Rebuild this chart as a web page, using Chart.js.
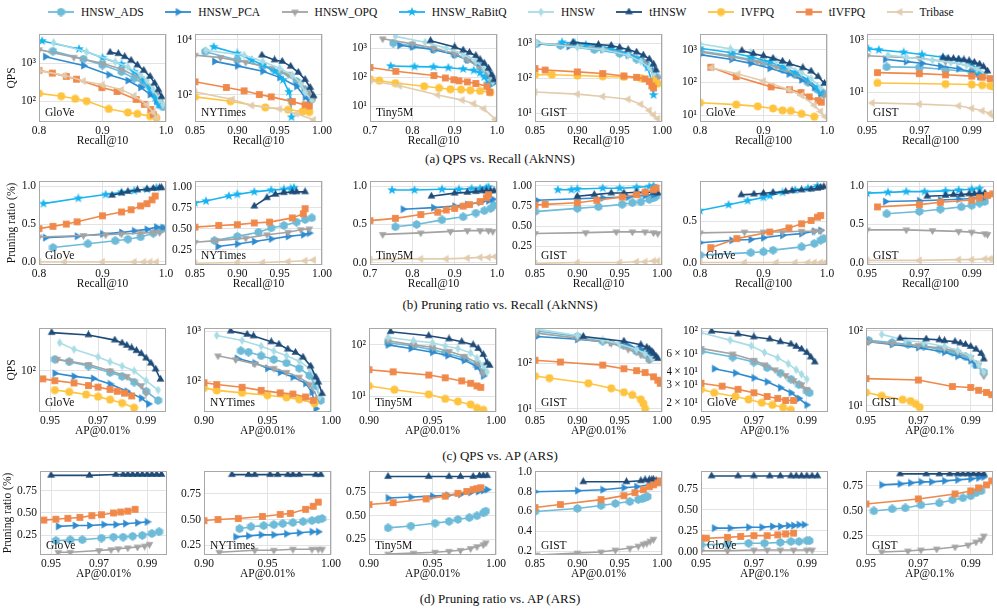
<!DOCTYPE html>
<html>
<head>
<meta charset="utf-8">
<script src="https://cdn.jsdelivr.net/npm/chart.js@4.4.1/dist/chart.umd.min.js"></script>
<style>
  body { margin: 0; width: 997px; height: 609px; background: #fff; position: relative; overflow: hidden;
         font-family: "Liberation Serif", "Times New Roman", serif; color: #111; }
  canvas.panel { position: absolute; }
  .cap { position: absolute; left: 0; width: 1000px; text-align: center; font-size: 13px; line-height: 15px; }
  #legend { position: absolute; top: 4px; left: 48px; display: flex; gap: 21.5px; font-size: 11.5px; line-height: 16px; white-space: nowrap; }
  .item { display: flex; align-items: center; gap: 7px; }
</style>
</head>
<body>
<div id="legend"></div>
<div class="cap" style="top:151px">(a) QPS vs. Recall (AkNNS)</div>
<div class="cap" style="top:297px">(b) Pruning ratio vs. Recall (AkNNS)</div>
<div class="cap" style="top:448px">(c) QPS vs. AP (ARS)</div>
<div class="cap" style="top:591px">(d) Pruning ratio vs. AP (ARS)</div>
<script>
// Methods, in legend order. Every panel array below lists one series per method
// in this same order, each series as [x, y] points; null = method not shown there.
const methods = ['HNSW_ADS', 'HNSW_PCA', 'HNSW_OPQ', 'HNSW_RaBitQ', 'HNSW', 'tHNSW', 'IVFPQ', 'tIVFPQ', 'Tribase'];

// (a) QPS vs. Recall (AkNNS)
const aGlove10 = [
  [[0.822,2100],[0.87,1300],[0.9,900],[0.93,600],[0.95,400],[0.965,280],[0.98,160],[0.99,100],[0.995,70]],
  [[0.81,1500],[0.87,870],[0.91,500],[0.94,350],[0.96,230],[0.975,150],[0.985,100],[0.99,80]],
  [[0.8,2300],[0.855,1450],[0.9,1000],[0.93,700],[0.96,400],[0.975,250],[0.985,150],[0.99,90]],
  [[0.805,3900],[0.863,2400],[0.9,1400],[0.93,950],[0.95,600],[0.965,350],[0.975,200],[0.983,120],[0.988,80]],
  [[0.823,3500],[0.875,2000],[0.92,1100],[0.94,800],[0.96,500],[0.97,350],[0.98,200],[0.99,110],[0.995,80]],
  [[0.912,1950],[0.925,1800],[0.935,1500],[0.945,1200],[0.955,900],[0.965,650],[0.975,450],[0.982,300],[0.988,200],[0.993,130]],
  [[0.8,160],[0.835,135],[0.857,115],[0.875,100],[0.91,62],[0.94,50],[0.955,46],[0.975,40],[0.985,36]],
  [[0.8,650],[0.821,550],[0.843,450],[0.859,380],[0.899,228],[0.923,180],[0.953,111],[0.966,82],[0.976,60],[0.98,44]],
  [[0.8,640],[0.84,480],[0.87,340],[0.9,270],[0.93,200],[0.95,140],[0.97,80],[0.98,50],[0.985,36]]
];
const aNytimes10 = [
  [[0.862,3600],[0.9,1800],[0.93,1100],[0.95,700],[0.97,300],[0.98,150],[0.988,70]],
  [[0.873,1600],[0.9,1100],[0.93,700],[0.95,420],[0.97,200],[0.98,80],[0.985,55]],
  [[0.85,2700],[0.88,2200],[0.91,1500],[0.94,900],[0.96,550],[0.975,250],[0.985,120],[0.99,70]],
  [[0.872,5400],[0.9,3100],[0.917,1800],[0.93,1200],[0.944,690],[0.954,340],[0.961,125],[0.963,62],[0.964,15]],
  [[0.863,4000],[0.908,2700],[0.93,1600],[0.95,900],[0.965,500],[0.975,250],[0.98,120],[0.988,60]],
  [[0.929,2700],[0.944,1800],[0.953,1600],[0.963,1060],[0.972,640],[0.98,350],[0.986,180],[0.99,90]],
  [[0.85,82],[0.892,57],[0.933,34],[0.96,28],[0.977,24],[0.985,23]],
  [[0.85,290],[0.887,180],[0.908,136],[0.926,100],[0.94,82],[0.965,55],[0.98,42],[0.985,38]],
  [[0.85,125],[0.894,66],[0.917,40],[0.95,30],[0.97,20],[0.99,12]]
];
const aTiny10 = [
  [[0.755,1500],[0.8,1200],[0.85,900],[0.9,600],[0.93,400],[0.96,250],[0.98,120],[0.99,70]],
  [[0.77,1250],[0.8,1100],[0.85,900],[0.9,600],[0.93,400],[0.96,220],[0.98,110],[0.99,60]],
  [[0.73,2100],[0.8,1400],[0.85,1000],[0.9,650],[0.93,400],[0.96,200],[0.98,120],[0.99,70]],
  [[0.749,240],[0.805,230],[0.85,225],[0.885,210],[0.92,190],[0.945,170],[0.96,140],[0.97,100],[0.978,60],[0.98,45]],
  [[0.76,2550],[0.83,1600],[0.88,1000],[0.92,600],[0.95,350],[0.97,200],[0.985,110],[0.99,70]],
  [[0.843,1800],[0.9,1100],[0.92,850],[0.935,700],[0.95,550],[0.96,400],[0.97,300],[0.98,200],[0.988,120],[0.993,80]],
  [[0.7,85],[0.722,75],[0.76,62],[0.828,48],[0.863,42],[0.89,38],[0.915,37],[0.937,35],[0.96,33],[0.984,30]],
  [[0.7,215],[0.761,158],[0.851,113],[0.878,93],[0.898,81],[0.91,74],[0.93,68],[0.95,60],[0.976,48],[0.983,30]],
  [[0.7,75],[0.77,50],[0.86,24],[0.918,16],[0.945,12],[0.969,8],[0.996,3.5]]
];
const aGist10 = [
  [[0.852,950],[0.88,850],[0.92,650],[0.95,500],[0.97,350],[0.985,200],[0.993,110]],
  [[0.852,950],[0.89,800],[0.93,650],[0.96,450],[0.98,280],[0.99,160],[0.993,100]],
  [[0.85,1000],[0.9,850],[0.93,700],[0.96,500],[0.98,300],[0.99,150],[0.995,100]],
  [[0.882,1050],[0.897,1000],[0.91,900],[0.94,700],[0.96,500],[0.975,350],[0.983,200],[0.988,80],[0.99,33]],
  [[0.852,1000],[0.9,750],[0.93,650],[0.96,450],[0.975,300],[0.985,200],[0.99,130]],
  [[0.895,1050],[0.925,900],[0.94,850],[0.95,750],[0.96,650],[0.97,550],[0.978,450],[0.985,350],[0.99,250],[0.993,170]],
  [[0.85,125],[0.87,125],[0.9,118],[0.93,112],[0.955,108],[0.975,100],[0.99,85],[0.995,70]],
  [[0.85,187],[0.862,170],[0.9,150],[0.93,135],[0.955,115],[0.97,105],[0.98,95],[0.985,80],[0.988,60],[0.99,52]],
  [[0.85,40],[0.9,35],[0.93,30],[0.96,25],[0.975,18],[0.985,12],[0.99,9],[0.995,7]]
];
const aGlove100 = [
  [[0.8,900],[0.85,650],[0.88,500],[0.9,400],[0.93,250],[0.95,170],[0.97,100],[0.985,60],[0.995,45]],
  [[0.8,700],[0.85,500],[0.88,380],[0.91,270],[0.94,180],[0.96,120],[0.98,70],[0.99,45]],
  [[0.8,850],[0.85,600],[0.89,420],[0.92,300],[0.95,180],[0.97,110],[0.99,55],[0.995,40]],
  [[0.8,1100],[0.85,800],[0.88,600],[0.91,420],[0.93,300],[0.95,200],[0.97,120],[0.985,70],[0.99,50]],
  [[0.8,1500],[0.848,1050],[0.88,800],[0.9,650],[0.92,450],[0.94,300],[0.96,200],[0.975,130],[0.99,70]],
  [[0.866,930],[0.884,750],[0.9,640],[0.915,540],[0.93,440],[0.941,370],[0.962,280],[0.975,220],[0.986,150],[0.996,93]],
  [[0.8,24],[0.857,21],[0.891,18.6],[0.915,16],[0.93,14],[0.943,13.5],[0.96,11],[0.98,9]],
  [[0.817,290],[0.857,150],[0.912,73],[0.941,60],[0.959,49],[0.972,36],[0.986,28],[0.991,25]],
  [[0.818,280],[0.86,180],[0.9,110],[0.94,60],[0.96,40],[0.98,20],[0.99,13],[0.997,9]]
];
const aGist100 = [
  [[0.9575,94],[0.97,90],[0.98,75],[0.99,60],[0.993,50]],
  [[0.957,185],[0.965,150],[0.971,130],[0.978,100],[0.985,80],[0.99,60],[0.993,40]],
  [[0.95,250],[0.97,200],[0.98,150],[0.99,100],[0.995,50]],
  [[0.9505,460],[0.9545,420],[0.964,340],[0.971,280],[0.979,220],[0.985,180],[0.989,140],[0.992,80],[0.993,50]],
  [[0.958,265],[0.965,220],[0.975,170],[0.982,140],[0.988,110],[0.992,80],[0.995,50]],
  [[0.979,215],[0.981,200],[0.983,195],[0.985,185],[0.987,175],[0.989,160],[0.991,140],[0.993,120],[0.9945,95],[0.996,65]],
  [[0.954,23],[0.98,21],[0.99,20],[0.994,19],[0.997,18],[0.998,17]],
  [[0.954,57],[0.97,52],[0.98,47],[0.99,42],[0.994,38],[0.997,34]],
  [[0.952,4],[0.97,3.6],[0.985,3.1],[0.99,2.5],[0.994,2],[0.997,1.6],[0.998,1.3]]
];

// (b) Pruning ratio vs. Recall (AkNNS)
const bGlove10 = [
  [[0.822,0.19],[0.877,0.24],[0.92,0.28],[0.94,0.3],[0.96,0.33],[0.98,0.38],[0.99,0.42],[0.995,0.44]],
  [[0.81,0.32],[0.86,0.34],[0.9,0.37],[0.93,0.39],[0.95,0.41],[0.97,0.43],[0.985,0.46],[0.995,0.45]],
  [[0.8,0.33],[0.87,0.35],[0.905,0.36],[0.93,0.37],[0.96,0.38],[0.98,0.39],[0.99,0.39]],
  [[0.807,0.77],[0.862,0.84],[0.905,0.89],[0.93,0.92],[0.95,0.94],[0.97,0.96],[0.985,0.98]],
  null,
  [[0.915,0.88],[0.93,0.91],[0.94,0.93],[0.955,0.95],[0.97,0.96],[0.98,0.97],[0.99,0.98],[0.993,0.98]],
  null,
  [[0.8,0.44],[0.822,0.47],[0.843,0.5],[0.86,0.53],[0.9,0.61],[0.93,0.66],[0.945,0.69],[0.96,0.74],[0.97,0.77],[0.978,0.82],[0.983,0.87]],
  [[0.8,0.0],[0.84,0.0],[0.9,0.0],[0.95,0.0],[0.965,0.0],[0.975,0.0],[0.985,0.0]]
];
const bNytimes10 = [
  [[0.873,0.36],[0.9,0.41],[0.925,0.46],[0.94,0.51],[0.955,0.54],[0.97,0.58],[0.98,0.61],[0.988,0.63]],
  [[0.877,0.29],[0.9,0.32],[0.92,0.35],[0.94,0.38],[0.96,0.41],[0.978,0.43],[0.985,0.45]],
  [[0.85,0.34],[0.875,0.36],[0.91,0.39],[0.935,0.43],[0.96,0.46],[0.975,0.49],[0.985,0.5]],
  [[0.85,0.81],[0.863,0.83],[0.89,0.89],[0.9,0.91],[0.92,0.94],[0.94,0.96],[0.955,0.97],[0.963,0.98],[0.967,0.99]],
  null,
  [[0.92,0.77],[0.935,0.87],[0.945,0.91],[0.955,0.93],[0.965,0.94],[0.97,0.94],[0.98,0.94]],
  null,
  [[0.85,0.52],[0.878,0.54],[0.9,0.55],[0.92,0.57],[0.938,0.58],[0.965,0.63],[0.978,0.68],[0.98,0.74]],
  [[0.85,0.09],[0.9,0.1],[0.93,0.1],[0.96,0.11],[0.98,0.12],[0.99,0.13]]
];
const bTiny10 = [
  [[0.76,0.47],[0.81,0.5],[0.87,0.56],[0.92,0.6],[0.95,0.65],[0.97,0.68],[0.985,0.71],[0.993,0.75]],
  [[0.778,0.7],[0.85,0.72],[0.9,0.74],[0.93,0.76],[0.96,0.79],[0.98,0.81],[0.99,0.83]],
  [[0.73,0.37],[0.82,0.39],[0.89,0.41],[0.93,0.42],[0.96,0.42],[0.98,0.42],[0.99,0.41]],
  [[0.752,0.95],[0.805,0.95],[0.87,0.96],[0.91,0.96],[0.94,0.97],[0.96,0.97],[0.975,0.98],[0.98,0.99]],
  null,
  [[0.845,0.87],[0.9,0.91],[0.93,0.92],[0.95,0.93],[0.965,0.94],[0.975,0.94],[0.985,0.94],[0.993,0.94]],
  null,
  [[0.7,0.55],[0.76,0.58],[0.82,0.63],[0.86,0.66],[0.88,0.69],[0.9,0.71],[0.92,0.74],[0.935,0.76],[0.96,0.8],[0.975,0.85],[0.98,0.89]],
  [[0.7,0.04],[0.82,0.05],[0.88,0.05],[0.93,0.06],[0.96,0.07],[0.98,0.07],[0.995,0.08]]
];
const bGist10 = [
  [[0.85,0.68],[0.9,0.72],[0.925,0.74],[0.953,0.77],[0.965,0.79],[0.975,0.8],[0.985,0.83],[0.99,0.85],[0.993,0.87]],
  [[0.852,0.82],[0.9,0.84],[0.93,0.85],[0.96,0.86],[0.98,0.88],[0.99,0.89],[0.993,0.9]],
  [[0.85,0.41],[0.91,0.42],[0.946,0.43],[0.965,0.43],[0.98,0.43],[0.99,0.42],[0.995,0.41]],
  [[0.877,0.95],[0.893,0.95],[0.9,0.96],[0.93,0.97],[0.95,0.97],[0.97,0.98],[0.985,0.99],[0.99,1.0]],
  null,
  [[0.9,0.87],[0.92,0.89],[0.94,0.91],[0.955,0.91],[0.97,0.92],[0.98,0.92],[0.99,0.92],[0.995,0.91]],
  null,
  [[0.85,0.76],[0.862,0.77],[0.9,0.79],[0.923,0.82],[0.953,0.86],[0.97,0.89],[0.98,0.92],[0.99,0.95],[0.993,0.97]],
  [[0.85,0.04],[0.9,0.05],[0.95,0.05],[0.97,0.06],[0.98,0.06],[0.99,0.07],[0.995,0.07]]
];
const bGlove100 = [
  [[0.8,0.09],[0.88,0.12],[0.9,0.13],[0.915,0.15],[0.96,0.19],[0.98,0.23],[0.99,0.27],[0.995,0.29]],
  [[0.8,0.24],[0.85,0.27],[0.88,0.28],[0.9,0.3],[0.93,0.33],[0.96,0.35],[0.98,0.38],[0.99,0.39]],
  [[0.8,0.36],[0.87,0.37],[0.9,0.37],[0.93,0.37],[0.96,0.38],[0.98,0.38],[0.99,0.38]],
  [[0.8,0.63],[0.845,0.7],[0.875,0.75],[0.9,0.79],[0.91,0.81],[0.93,0.85],[0.95,0.88],[0.97,0.9],[0.985,0.93]],
  null,
  [[0.865,0.82],[0.885,0.83],[0.9,0.84],[0.915,0.85],[0.935,0.86],[0.945,0.87],[0.96,0.88],[0.975,0.89],[0.985,0.9],[0.99,0.91],[0.995,0.92]],
  null,
  [[0.817,0.18],[0.858,0.29],[0.91,0.37],[0.94,0.42],[0.96,0.47],[0.975,0.51],[0.985,0.55],[0.99,0.57]],
  [[0.8,0.0],[0.87,0.0],[0.92,0.0],[0.95,0.0],[0.97,0.0],[0.98,0.0],[0.99,0.0],[0.997,0.0]]
];
const bGist100 = [
  [[0.9575,0.64],[0.97,0.67],[0.978,0.7],[0.986,0.73],[0.99,0.75],[0.993,0.78],[0.995,0.8]],
  [[0.957,0.8],[0.97,0.81],[0.978,0.82],[0.985,0.83],[0.99,0.84],[0.995,0.86]],
  [[0.95,0.43],[0.965,0.43],[0.975,0.42],[0.985,0.41],[0.99,0.4],[0.995,0.38],[0.996,0.37]],
  [[0.95,0.91],[0.958,0.92],[0.965,0.93],[0.972,0.93],[0.98,0.94],[0.985,0.95],[0.99,0.96],[0.993,0.97]],
  null,
  [[0.973,0.87],[0.98,0.88],[0.983,0.89],[0.986,0.89],[0.989,0.9],[0.991,0.9],[0.993,0.91],[0.995,0.91]],
  null,
  [[0.954,0.73],[0.97,0.76],[0.978,0.79],[0.99,0.82],[0.993,0.85],[0.996,0.88],[0.998,0.9]],
  [[0.95,0.03],[0.97,0.03],[0.985,0.04],[0.99,0.04],[0.995,0.05],[0.997,0.05],[0.998,0.05]]
];

// (c) QPS vs. AP (ARS)
const cGlove001 = [
  [[0.952,140],[0.958,130],[0.966,115],[0.975,95],[0.98,85],[0.985,72],[0.99,55],[0.995,42]],
  [[0.952,93],[0.96,85],[0.968,80],[0.975,68],[0.982,55],[0.988,45],[0.991,38]],
  [[0.953,140],[0.958,132],[0.966,120],[0.975,100],[0.982,85],[0.988,65],[0.99,52]],
  null,
  [[0.954,227],[0.96,187],[0.97,150],[0.975,130],[0.98,115],[0.985,100],[0.99,75],[0.995,57]],
  [[0.9507,305],[0.966,285],[0.977,245],[0.98,225],[0.982,210],[0.984,195],[0.986,180],[0.988,165],[0.99,145],[0.992,125],[0.994,105],[0.996,78]],
  [[0.952,57],[0.958,54],[0.965,50],[0.97,47],[0.975,43],[0.98,39],[0.985,34]],
  [[0.947,79],[0.952,75],[0.96,70],[0.966,65],[0.97,62],[0.975,58],[0.978,55],[0.981,52],[0.984,48]],
  null
];
const cNytimes001 = [
  [[0.929,403],[0.935,380],[0.945,320],[0.955,270],[0.965,230],[0.975,180],[0.983,130],[0.988,80],[0.992,41]],
  [[0.926,285],[0.94,230],[0.95,180],[0.96,150],[0.97,120],[0.98,90],[0.985,60],[0.988,28]],
  [[0.911,320],[0.925,270],[0.94,220],[0.955,180],[0.965,150],[0.975,120],[0.983,85],[0.99,45]],
  null,
  [[0.91,820],[0.93,650],[0.945,500],[0.955,400],[0.965,320],[0.975,250],[0.983,180],[0.988,110],[0.991,48]],
  [[0.921,1000],[0.934,860],[0.939,800],[0.953,610],[0.959,545],[0.966,435],[0.972,375],[0.978,300],[0.984,200],[0.988,120],[0.99,95],[0.993,56]],
  [[0.9,73],[0.91,65],[0.93,58],[0.95,52],[0.965,47],[0.975,43],[0.987,36]],
  [[0.9,93],[0.91,85],[0.93,75],[0.945,65],[0.96,58],[0.97,55],[0.98,48],[0.986,41]],
  null
];
const cTiny001 = [
  [[0.915,110],[0.935,95],[0.95,80],[0.96,70],[0.975,55],[0.985,40],[0.99,30]],
  [[0.915,100],[0.933,85],[0.95,72],[0.962,62],[0.975,50],[0.985,38],[0.99,25]],
  [[0.915,120],[0.935,100],[0.95,90],[0.963,75],[0.975,60],[0.985,45],[0.99,28]],
  null,
  [[0.915,140],[0.935,120],[0.95,110],[0.96,95],[0.97,85],[0.98,70],[0.985,55],[0.99,40],[0.993,30]],
  [[0.917,180],[0.947,150],[0.963,130],[0.973,115],[0.982,100],[0.986,85],[0.99,65],[0.993,45],[0.995,40]],
  [[0.9,16],[0.92,13.5],[0.947,11],[0.96,9],[0.97,8],[0.98,7],[0.985,6],[0.99,5.5]],
  [[0.9,33],[0.919,30],[0.947,26],[0.96,23],[0.973,20],[0.98,18],[0.985,16],[0.988,15]],
  null
];
const cGist001 = [
  [[0.852,500],[0.9,380],[0.93,300],[0.955,240],[0.97,180],[0.98,150],[0.985,120]],
  [[0.852,380],[0.9,330],[0.94,280],[0.96,240],[0.975,200],[0.985,160]],
  [[0.852,450],[0.9,350],[0.94,270],[0.96,200],[0.975,150],[0.985,120]],
  null,
  [[0.852,550],[0.9,400],[0.93,320],[0.95,260],[0.97,200],[0.98,160],[0.988,130]],
  [[0.907,380],[0.955,300],[0.975,250],[0.982,220],[0.985,200],[0.988,180],[0.99,160],[0.993,140],[0.995,125]],
  [[0.85,52],[0.867,47],[0.913,36],[0.94,28],[0.955,23],[0.965,20],[0.975,16],[0.978,13],[0.98,10]],
  [[0.85,115],[0.88,105],[0.93,90],[0.955,75],[0.97,68],[0.98,62],[0.99,50],[0.995,42],[0.998,36]],
  null
];
const cGlove01 = [
  [[0.95,64],[0.962,56],[0.97,50],[0.975,44],[0.98,39],[0.984,34],[0.987,30],[0.99,26],[0.991,25]],
  [[0.955,43],[0.963,39],[0.97,35],[0.975,32],[0.98,28],[0.984,25],[0.987,22],[0.99,19]],
  [[0.95,68],[0.962,60],[0.97,52],[0.974,47],[0.978,42],[0.982,37],[0.985,33],[0.988,30],[0.99,27]],
  null,
  [[0.95,97],[0.961,82],[0.969,72],[0.974,62],[0.979,55],[0.983,48],[0.986,42],[0.988,38],[0.99,34]],
  [[0.954,100],[0.964,94],[0.97,88],[0.976,84],[0.98,79],[0.984,75],[0.986,71],[0.988,67],[0.99,62],[0.9915,56],[0.993,50]],
  [[0.95,27],[0.955,25],[0.963,23],[0.968,21.5],[0.973,20],[0.977,19],[0.981,18],[0.984,17]],
  [[0.95,31],[0.958,29],[0.964,27],[0.97,25],[0.975,23],[0.979,22],[0.982,21],[0.985,21]],
  null
];
const cGist01 = [
  [[0.951,75],[0.96,70],[0.966,66],[0.972,62],[0.978,57],[0.983,52],[0.988,45],[0.992,35],[0.995,28]],
  [[0.951,72],[0.96,66],[0.97,60],[0.98,52],[0.985,46],[0.99,40],[0.992,35]],
  [[0.951,72],[0.96,68],[0.97,64],[0.98,58],[0.985,52],[0.99,44],[0.993,35],[0.995,25]],
  null,
  [[0.956,90],[0.965,75],[0.972,70],[0.98,62],[0.985,55],[0.99,45],[0.993,35],[0.995,28]],
  [[0.963,80],[0.973,78],[0.978,76],[0.98,74],[0.984,72],[0.986,69],[0.988,66],[0.99,62],[0.992,57],[0.994,50],[0.995,42]],
  [[0.95,15],[0.956,13.5],[0.964,12],[0.967,11.5],[0.969,10.5],[0.9705,9.5]],
  [[0.95,23],[0.97,22],[0.983,18],[0.99,17.5],[0.993,16],[0.996,15],[0.998,14]],
  null
];

// (d) Pruning ratio vs. AP (ARS)
const dGlove001 = [
  [[0.952,0.19],[0.958,0.2],[0.963,0.2],[0.971,0.22],[0.976,0.23],[0.98,0.23],[0.984,0.24],[0.988,0.25],[0.992,0.27],[0.995,0.29]],
  [[0.953,0.35],[0.96,0.36],[0.966,0.36],[0.972,0.37],[0.977,0.37],[0.981,0.38],[0.986,0.39],[0.99,0.4]],
  [[0.953,0.06],[0.958,0.06],[0.97,0.08],[0.975,0.09],[0.978,0.1],[0.982,0.11],[0.986,0.12],[0.989,0.13],[0.991,0.15]],
  null, null,
  [[0.95,0.92],[0.966,0.92],[0.977,0.93],[0.98,0.93],[0.982,0.93],[0.984,0.93],[0.986,0.93],[0.988,0.93],[0.99,0.93],[0.992,0.93],[0.994,0.93],[0.996,0.93]],
  null,
  [[0.947,0.42],[0.952,0.43],[0.957,0.44],[0.962,0.45],[0.967,0.47],[0.971,0.48],[0.976,0.5],[0.979,0.51],[0.982,0.52],[0.985,0.54]],
  null
];
const dNytimes001 = [
  [[0.928,0.41],[0.937,0.43],[0.947,0.44],[0.955,0.45],[0.962,0.46],[0.97,0.47],[0.978,0.48],[0.985,0.49],[0.99,0.5],[0.993,0.51]],
  [[0.925,0.33],[0.935,0.34],[0.945,0.35],[0.955,0.35],[0.965,0.36],[0.975,0.37],[0.985,0.38],[0.99,0.38]],
  [[0.912,0.18],[0.94,0.2],[0.955,0.2],[0.97,0.21],[0.985,0.21],[0.99,0.21],[0.993,0.21]],
  null, null,
  [[0.922,0.94],[0.935,0.94],[0.94,0.94],[0.952,0.94],[0.958,0.94],[0.966,0.94],[0.97,0.94],[0.975,0.94],[0.988,0.94],[0.992,0.94]],
  null,
  [[0.9,0.49],[0.911,0.5],[0.927,0.51],[0.946,0.53],[0.96,0.55],[0.968,0.56],[0.98,0.6],[0.986,0.63],[0.99,0.67]],
  null
];
const dTiny001 = [
  [[0.915,0.37],[0.933,0.39],[0.952,0.42],[0.963,0.44],[0.97,0.46],[0.979,0.48],[0.985,0.5],[0.99,0.53],[0.992,0.55]],
  [[0.915,0.69],[0.933,0.7],[0.95,0.71],[0.962,0.72],[0.972,0.73],[0.98,0.75],[0.986,0.76],[0.99,0.77],[0.993,0.78]],
  [[0.915,0.09],[0.935,0.1],[0.952,0.11],[0.963,0.12],[0.972,0.13],[0.98,0.15],[0.985,0.17],[0.99,0.19],[0.992,0.21]],
  null, null,
  [[0.915,0.92],[0.947,0.92],[0.963,0.92],[0.972,0.92],[0.982,0.92],[0.987,0.93],[0.99,0.93],[0.993,0.93]],
  null,
  [[0.9,0.62],[0.919,0.64],[0.945,0.68],[0.96,0.71],[0.97,0.74],[0.977,0.76],[0.982,0.78],[0.985,0.79],[0.988,0.8]],
  null
];
const dGist001 = [
  [[0.85,0.6],[0.9,0.63],[0.928,0.66],[0.945,0.68],[0.962,0.7],[0.972,0.72],[0.977,0.73],[0.98,0.74],[0.983,0.75]],
  [[0.85,0.8],[0.9,0.81],[0.93,0.82],[0.955,0.84],[0.97,0.85],[0.985,0.87],[0.99,0.88],[0.995,0.9]],
  [[0.852,0.16],[0.9,0.18],[0.928,0.19],[0.945,0.21],[0.962,0.23],[0.972,0.25],[0.978,0.27],[0.982,0.28],[0.986,0.3],[0.99,0.32]],
  null, null,
  [[0.907,0.9],[0.958,0.9],[0.975,0.91],[0.98,0.92],[0.985,0.92],[0.988,0.92],[0.99,0.92],[0.993,0.91]],
  null,
  [[0.85,0.64],[0.88,0.67],[0.928,0.72],[0.955,0.76],[0.968,0.79],[0.978,0.82],[0.985,0.85],[0.99,0.87],[0.995,0.89],[0.998,0.91]],
  null
];
const dGlove01 = [
  [[0.95,0.08],[0.96,0.09],[0.968,0.1],[0.974,0.1],[0.98,0.11],[0.984,0.12],[0.987,0.12],[0.99,0.13],[0.991,0.13]],
  [[0.955,0.28],[0.961,0.28],[0.968,0.29],[0.973,0.29],[0.977,0.3],[0.98,0.3],[0.983,0.31],[0.985,0.31],[0.987,0.32],[0.989,0.32]],
  [[0.95,0.01],[0.96,0.01],[0.97,0.02],[0.975,0.02],[0.98,0.02],[0.985,0.02],[0.99,0.02],[0.992,0.02]],
  null, null,
  [[0.954,0.9],[0.964,0.9],[0.97,0.9],[0.976,0.9],[0.98,0.9],[0.984,0.9],[0.986,0.9],[0.988,0.9],[0.99,0.9],[0.992,0.9],[0.994,0.9]],
  null,
  [[0.95,0.16],[0.952,0.16],[0.96,0.17],[0.965,0.18],[0.97,0.19],[0.975,0.19],[0.979,0.2],[0.982,0.21],[0.985,0.22]],
  null
];
const dGist01 = [
  [[0.953,0.5],[0.96,0.52],[0.965,0.53],[0.971,0.56],[0.978,0.58],[0.983,0.61],[0.987,0.63],[0.99,0.65],[0.992,0.68],[0.994,0.7]],
  [[0.956,0.76],[0.963,0.77],[0.967,0.78],[0.971,0.79],[0.975,0.79],[0.98,0.8],[0.985,0.81],[0.99,0.82],[0.993,0.83],[0.995,0.84]],
  [[0.956,0.09],[0.966,0.1],[0.971,0.11],[0.977,0.12],[0.984,0.14],[0.989,0.16],[0.992,0.19],[0.994,0.21],[0.995,0.25]],
  null, null,
  [[0.963,0.87],[0.973,0.87],[0.978,0.87],[0.982,0.87],[0.985,0.87],[0.987,0.87],[0.989,0.87],[0.991,0.87],[0.993,0.87],[0.995,0.87]],
  null,
  [[0.95,0.57],[0.97,0.62],[0.984,0.67],[0.99,0.7],[0.993,0.73],[0.996,0.76],[0.998,0.8]],
  null
];

// tick values
const ticksR1 = [0.8, 0.9, 1.0];
const ticksR2 = [0.85, 0.90, 0.95, 1.00];
const ticksR3 = [0.7, 0.8, 0.9, 1.0];
const ticksFine = [0.95, 0.97, 0.99];
const ticksAP = [0.90, 0.95, 1.00];
const ticksDecades = [10, 100, 1000];

// ---- styling / layout ----
const colors = ['#6dbbd8', '#2e8bd0', '#a3a3a3', '#19b4f0', '#a9dce5', '#1e4b78', '#ffc43f', '#f0884a', '#e2ccae'];
const shapes = ['hexagon', 'triRight', 'triDown', 'star', 'thinDiamond', 'triUp', 'circle', 'square', 'triLeft'];
const FONT = '"Liberation Serif", "Times New Roman", serif';
const TXT = 11.5;
const GRID = '#e3e3e3';
const rowTop = [33, 180, 327, 470];
const rowH = [89, 85, 85, 85];
const colLeft = [
  [39, 195, 370, 535, 700, 867],
  [39, 195, 370, 535, 700, 867],
  [39, 204, 369, 535, 701, 866],
  [40, 204, 369, 535, 701, 866]
];
const yTitleLeft = [5, 5, 5, 1];
const PLOT_W = 127, Y_W = 34, X_H = 26, PAD_T = 9, PAD_R = 14;

Chart.defaults.font.family = FONT;
Chart.defaults.color = '#111';

function makeMarker(shape, color, s) {
  const c = document.createElement('canvas');
  c.width = c.height = s;
  const g = c.getContext('2d');
  const r = s / 2;
  g.fillStyle = color;
  g.beginPath();
  const poly = (n, rot, rad) => {
    for (let i = 0; i < n; i++) {
      const a = rot + i * 2 * Math.PI / n;
      g.lineTo(r + rad * Math.cos(a), r + rad * Math.sin(a));
    }
  };
  switch (shape) {
    case 'circle': g.arc(r, r, r * 0.88, 0, 2 * Math.PI); break;
    case 'square': g.rect(s * 0.12, s * 0.12, s * 0.76, s * 0.76); break;
    case 'hexagon': poly(6, -Math.PI / 2, r); break;
    case 'triUp': poly(3, -Math.PI / 2, r); break;
    case 'triDown': poly(3, Math.PI / 2, r); break;
    case 'triRight': poly(3, 0, r); break;
    case 'triLeft': poly(3, Math.PI, r); break;
    case 'thinDiamond':
      g.moveTo(r, 0); g.lineTo(r + r * 0.62, r); g.lineTo(r, s); g.lineTo(r - r * 0.62, r); break;
    case 'star':
      for (let i = 0; i < 10; i++) {
        const a = -Math.PI / 2 + i * Math.PI / 5;
        const rad = i % 2 ? r * 0.42 : r;
        g.lineTo(r + rad * Math.cos(a), r + rad * Math.sin(a));
      }
      break;
  }
  g.closePath();
  g.fill();
  return c;
}
const markers = shapes.map((sh, i) => makeMarker(sh, colors[i], sh === 'star' ? 10 : 9));

// legend
const legend = document.getElementById('legend');
methods.forEach((m, i) => {
  const item = document.createElement('div');
  item.className = 'item';
  const c = document.createElement('canvas');
  c.width = 26; c.height = 12;
  const g = c.getContext('2d');
  g.strokeStyle = colors[i]; g.lineWidth = 1.8;
  g.beginPath(); g.moveTo(0, 6); g.lineTo(26, 6); g.stroke();
  g.drawImage(markers[i], 13 - markers[i].width / 2, 6 - markers[i].height / 2);
  const t = document.createElement('span');
  t.textContent = m;
  item.appendChild(c); item.appendChild(t);
  legend.appendChild(item);
});

const SUP = {'0':'⁰','1':'¹','2':'²','3':'³','4':'⁴','-':'⁻'};
const sup = n => String(n).split('').map(ch => SUP[ch]).join('');
const isPow10 = v => Math.abs(Math.log10(v) - Math.round(Math.log10(v))) < 1e-6;
function logLabel(v) {
  const e = Math.floor(Math.log10(v) + 1e-9);
  const m = Math.round(v / Math.pow(10, e));
  return m === 1 ? '10' + sup(e) : m + '\u2009×\u200910' + sup(e);
}

const panelPlugin = {
  id: 'panelDeco',
  afterDatasetsDraw(chart, args, opts) {
    const { ctx, chartArea: a } = chart;
    ctx.save();
    ctx.font = TXT + 'px ' + FONT;
    ctx.fillStyle = '#111';
    ctx.textBaseline = 'alphabetic';
    ctx.fillText(opts.name, a.left + 6, a.bottom - 6);
    ctx.strokeStyle = '#a8a8a8';
    ctx.lineWidth = 1;
    ctx.strokeRect(Math.round(a.left) + 0.5, Math.round(a.top) + 0.5,
                   Math.round(a.right - a.left) - 1, Math.round(a.bottom - a.top) - 1);
    ctx.restore();
  }
};

function makePanel(p) {
  const plotL = colLeft[p.r][p.c], plotT = rowTop[p.r], plotH = rowH[p.r];
  const first = p.c === 0;
  const canvL = first ? yTitleLeft[p.r] : plotL - Y_W;
  const yW = plotL - canvL;
  const cv = document.createElement('canvas');
  cv.className = 'panel';
  cv.width = yW + PLOT_W + PAD_R;
  cv.height = PAD_T + plotH + X_H;
  cv.style.left = canvL + 'px';
  cv.style.top = (plotT - PAD_T) + 'px';
  document.body.appendChild(cv);

  const datasets = [];
  p.data.forEach((pts, i) => {
    if (!pts) return;
    datasets.push({
      label: methods[i],
      data: pts.map(([x, y]) => ({ x, y })),
      showLine: true,
      borderColor: colors[i],
      backgroundColor: colors[i],
      borderWidth: 1.6,
      pointStyle: markers[i],
      pointRadius: 4,
      pointHoverRadius: 4,
      order: 8 - i
    });
  });

  const yLabels = p.ylog ? p.yt.map(logLabel) : p.yt.map(v => v.toFixed(p.ydec));
  const yTitle = (p.r === 0 || p.r === 2) ? 'QPS' : 'Pruning ratio (%)';

  new Chart(cv, {
    type: 'scatter',
    data: { datasets },
    plugins: [panelPlugin],
    options: {
      responsive: false,
      animation: false,
      events: [],
      layout: { padding: { left: 0, top: PAD_T, right: PAD_R, bottom: 0 } },
      plugins: { legend: { display: false }, tooltip: { enabled: false }, panelDeco: { name: p.name } },
      scales: {
        x: {
          type: 'linear', min: p.x[0], max: p.x[1],
          afterBuildTicks: s => { s.ticks = p.xt.map(v => ({ value: v })); },
          afterFit: s => { s.height = X_H; },
          ticks: { callback: v => v.toFixed(p.xdec), font: { size: TXT }, color: '#111', padding: 2, maxRotation: 0, autoSkip: false },
          grid: { color: GRID, drawTicks: false },
          border: { display: false },
          title: { display: true, text: p.xtitle, font: { size: TXT }, color: '#111', padding: 0 }
        },
        y: {
          type: p.ylog ? 'logarithmic' : 'linear', min: p.y[0], max: p.y[1],
          afterBuildTicks: s => { s.ticks = p.yt.map(v => ({ value: v })); },
          afterFit: s => { s.width = yW; },
          ticks: { callback: (v, i) => yLabels[i], font: { size: TXT }, color: '#111', padding: 3, autoSkip: false },
          grid: {
            drawTicks: false,
            color: ctx => (!p.ylog || (ctx.tick && isPow10(ctx.tick.value))) ? GRID : 'rgba(0,0,0,0)'
          },
          border: { display: false },
          title: { display: first, text: yTitle, font: { size: TXT }, color: '#111', padding: 0 }
        }
      }
    }
  });
}

const panels = [
  { r:0, c:0, data:aGlove10,   name:'GloVe',   xtitle:'Recall@10',  x:[0.8,1.0],     xt:ticksR1,   xdec:1, ylog:true, y:[28,6000],  yt:[100,1000] },
  { r:0, c:1, data:aNytimes10, name:'NYTimes', xtitle:'Recall@10',  x:[0.85,1.0],    xt:ticksR2,   xdec:2, ylog:true, y:[10,16000], yt:[100,10000] },
  { r:0, c:2, data:aTiny10,    name:'Tiny5M',  xtitle:'Recall@10',  x:[0.7,1.0],     xt:ticksR3,   xdec:1, ylog:true, y:[2.8,3100], yt:ticksDecades },
  { r:0, c:3, data:aGist10,    name:'GIST',    xtitle:'Recall@10',  x:[0.85,1.0],    xt:ticksR2,   xdec:2, ylog:true, y:[5.6,1820], yt:ticksDecades },
  { r:0, c:4, data:aGlove100,  name:'GloVe',   xtitle:'Recall@100', x:[0.8,1.0],     xt:ticksR1,   xdec:1, ylog:true, y:[6.2,3000], yt:ticksDecades },
  { r:0, c:5, data:aGist100,   name:'GIST',    xtitle:'Recall@100', x:[0.95,0.9985], xt:ticksFine, xdec:2, ylog:true, y:[0.75,1700], yt:[10,1000] },

  { r:1, c:0, data:bGlove10,   name:'GloVe',   xtitle:'Recall@10',  x:[0.8,1.0],     xt:ticksR1,   xdec:1, y:[-0.04,1.07], yt:[0,0.5,1.0], ydec:1 },
  { r:1, c:1, data:bNytimes10, name:'NYTimes', xtitle:'Recall@10',  x:[0.85,1.0],    xt:ticksR2,   xdec:2, y:[0.07,1.07],  yt:[0.25,0.5,0.75,1.0], ydec:2 },
  { r:1, c:2, data:bTiny10,    name:'Tiny5M',  xtitle:'Recall@10',  x:[0.7,1.0],     xt:ticksR3,   xdec:1, y:[-0.03,1.07], yt:[0,0.5,1.0], ydec:1 },
  { r:1, c:3, data:bGist10,    name:'GIST',    xtitle:'Recall@10',  x:[0.85,1.0],    xt:ticksR2,   xdec:2, y:[0.02,1.06],  yt:[0.25,0.5,0.75,1.0], ydec:2 },
  { r:1, c:4, data:bGlove100,  name:'GloVe',   xtitle:'Recall@100', x:[0.8,1.0],     xt:ticksR1,   xdec:1, y:[-0.03,0.99], yt:[0,0.5], ydec:1 },
  { r:1, c:5, data:bGist100,   name:'GIST',    xtitle:'Recall@100', x:[0.95,0.9985], xt:ticksFine, xdec:2, y:[-0.03,1.07], yt:[0,0.5,1.0], ydec:1 },

  { r:2, c:0, data:cGlove001,   name:'GloVe',   xtitle:'AP@0.01%', x:[0.9454,0.9983], xt:ticksFine, xdec:2, ylog:true, y:[30,350],   yt:[100] },
  { r:2, c:1, data:cNytimes001, name:'NYTimes', xtitle:'AP@0.01%', x:[0.9,1.0],       xt:ticksAP,   xdec:2, ylog:true, y:[24,1160],  yt:[100,1000] },
  { r:2, c:2, data:cTiny001,    name:'Tiny5M',  xtitle:'AP@0.01%', x:[0.9,1.0],       xt:ticksAP,   xdec:2, ylog:true, y:[5,213],    yt:[10,100] },
  { r:2, c:3, data:cGist001,    name:'GIST',    xtitle:'AP@0.01%', x:[0.85,1.0],      xt:ticksR2,   xdec:2, ylog:true, y:[8.5,585],  yt:[10,100] },
  { r:2, c:4, data:cGlove01,    name:'GloVe',   xtitle:'AP@0.1%',  x:[0.95,0.998],    xt:ticksFine, xdec:2, ylog:true, y:[16.2,108], yt:[20,30,40,60,100] },
  { r:2, c:5, data:cGist01,     name:'GIST',    xtitle:'AP@0.1%',  x:[0.95,0.9985],   xt:ticksFine, xdec:2, ylog:true, y:[8.2,110],  yt:[10,100] },

  { r:3, c:0, data:dGlove001,   name:'GloVe',   xtitle:'AP@0.01%', x:[0.9454,0.9983], xt:ticksFine, xdec:2, y:[0.03,0.97],  yt:[0.25,0.5,0.75], ydec:2 },
  { r:3, c:1, data:dNytimes001, name:'NYTimes', xtitle:'AP@0.01%', x:[0.9,1.0],       xt:ticksAP,   xdec:2, y:[0.153,0.976], yt:[0.25,0.5,0.75], ydec:2 },
  { r:3, c:2, data:dTiny001,    name:'Tiny5M',  xtitle:'AP@0.01%', x:[0.9,1.0],       xt:ticksAP,   xdec:2, y:[0.08,0.98],  yt:[0.25,0.5,0.75], ydec:2 },
  { r:3, c:3, data:dGist001,    name:'GIST',    xtitle:'AP@0.01%', x:[0.85,1.0],      xt:ticksR2,   xdec:2, y:[0.16,1.01],  yt:[0.2,0.4,0.6,0.8,1.0], ydec:1 },
  { r:3, c:4, data:dGlove01,    name:'GloVe',   xtitle:'AP@0.1%',  x:[0.95,0.998],    xt:ticksFine, xdec:2, y:[-0.04,0.96], yt:[0,0.25,0.5,0.75], ydec:2 },
  { r:3, c:5, data:dGist01,     name:'GIST',    xtitle:'AP@0.1%',  x:[0.95,0.9985],   xt:ticksFine, xdec:2, y:[0.06,0.9],   yt:[0.25,0.5,0.75], ydec:2 }
];

panels.forEach(makePanel);
</script>
</body>
</html>
